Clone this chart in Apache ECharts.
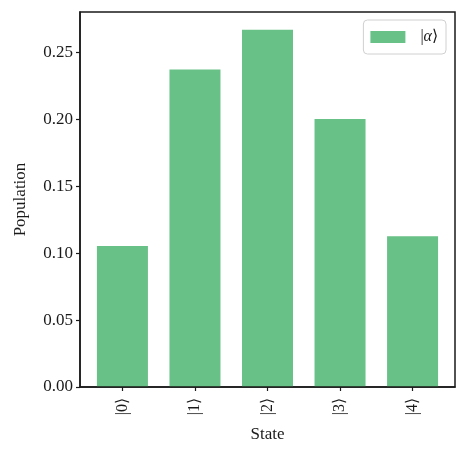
<!DOCTYPE html>
<html>
<head>
<meta charset="utf-8">
<script src="https://cdn.jsdelivr.net/npm/echarts@6/dist/echarts.min.js"></script>
<style>
  html, body { margin: 0; padding: 0; background: #fff; }
  #main { width: 467px; height: 456px; }
</style>
</head>
<body>
<div id="main"></div>
<script>
const states = ['|0\u27E9', '|1\u27E9', '|2\u27E9', '|3\u27E9', '|4\u27E9']
const statePositions = [0, 1, 2, 3, 4]
const population = [0.1054, 0.2371, 0.2668, 0.2001, 0.1126]
const yTicks = [0, 0.05, 0.1, 0.15, 0.2, 0.25]
const seriesName = '|\u03B1\u27E9'

const font = 'Liberation Serif'
const ink = '#1a1a1a'

const chart = echarts.init(document.getElementById('main'))
const option = {
  animation: false,
  grid: { left: 80, right: 12, top: 12, bottom: 69 },
  legend: {
    right: 21,
    top: 20,
    padding: [9, 8, 9, 7],
    borderColor: '#d0d0d0',
    borderWidth: 1,
    borderRadius: 4,
    itemWidth: 35,
    itemHeight: 12,
    textStyle: { fontFamily: font, fontSize: 16, color: ink, padding: [0, 0, 0, 10] },
    formatter: () => '|{a|\u03B1}\u27E9',
    data: [{ name: seriesName, icon: 'rect' }]
  },
  xAxis: {
    type: 'value',
    min: -0.585,
    max: 4.585,
    name: 'State',
    nameLocation: 'middle',
    nameGap: 39,
    nameTextStyle: { fontFamily: font, fontSize: 17, color: ink },
    axisLine: { show: true, onZero: false, lineStyle: { color: ink, width: 1.5 } },
    axisTick: { show: true, length: 4, customValues: statePositions, lineStyle: { color: ink, width: 1.2 } },
    axisLabel: {
      customValues: statePositions,
      rotate: 90,
      margin: 11,
      fontFamily: font,
      fontSize: 16,
      color: ink,
      formatter: v => states[statePositions.indexOf(Math.round(v))]
    },
    splitLine: { show: false }
  },
  yAxis: {
    type: 'value',
    min: 0,
    max: 0.2801,
    name: 'Population',
    nameLocation: 'middle',
    nameGap: 51,
    nameTextStyle: { fontFamily: font, fontSize: 17, color: ink },
    axisLine: { show: true, onZero: false, lineStyle: { color: ink, width: 1.5 } },
    axisTick: { show: true, length: 4, customValues: yTicks, lineStyle: { color: ink, width: 1.2 } },
    axisLabel: {
      customValues: yTicks,
      margin: 7,
      fontFamily: font,
      fontSize: 17,
      color: ink,
      formatter: v => v.toFixed(2)
    },
    splitLine: { show: false }
  },
  graphic: [{
    type: 'rect',
    shape: { x: 80, y: 12, width: 375, height: 375 },
    style: { fill: 'none', stroke: ink, lineWidth: 1.5 },
    silent: true,
    z: 100
  }],
  series: [{
    name: seriesName,
    type: 'bar',
    barWidth: 51,
    itemStyle: { color: '#68c186' },
    data: statePositions.map((x, i) => [x, population[i]])
  }]
}
option.legend.textStyle.rich = { a: { fontFamily: font, fontSize: 16, fontStyle: 'italic', color: ink } }
chart.setOption(option)
</script>
</body>
</html>
